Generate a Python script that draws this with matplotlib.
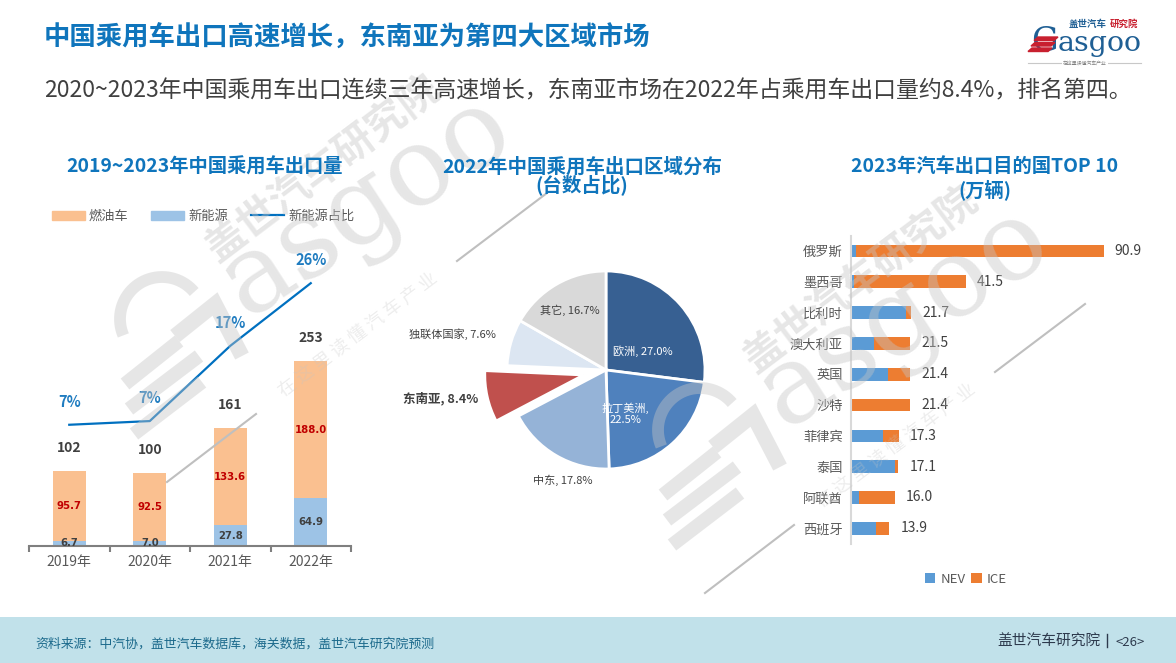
import numpy as np
import matplotlib
matplotlib.use("Agg")
import matplotlib.pyplot as plt
from matplotlib.patches import Patch, Polygon
from matplotlib.lines import Line2D

plt.rcParams['font.family'] = ['Noto Sans CJK SC', 'DejaVu Sans']

W, H = 1176, 663

# left chart
years = ['2019年', '2020年', '2021年', '2022年']
ice_export = [95.7, 92.5, 133.6, 188.0]
nev_export = [6.7, 7.0, 27.8, 64.9]
total_export = [102, 100, 161, 253]
nev_share = [6.5, 7.0, 17.2, 25.7]
nev_share_labels = ['7%', '7%', '17%', '26%']

# pie chart
regions = ['欧洲', '拉丁美洲', '中东', '东南亚', '独联体国家', '其它']
region_share = [27.0, 22.5, 17.8, 8.4, 7.6, 16.7]
region_colors = ['#376092', '#4f81bd', '#95b3d7', '#c0504d', '#dce6f2', '#d9d9d9']
region_explode = [0, 0, 0, 0.23, 0, 0]

# right chart
countries = ['俄罗斯', '墨西哥', '比利时', '澳大利亚', '英国', '沙特', '菲律宾', '泰国', '阿联酋', '西班牙']
country_total = [90.9, 41.5, 21.7, 21.5, 21.4, 21.4, 17.3, 17.1, 16.0, 13.9]
country_nev = [1.8, 1.4, 19.8, 8.6, 13.6, 0.0, 11.5, 15.8, 3.2, 9.3]

BLUE = '#0f75bc'
GREY = '#595959'
DARK = '#404040'
COMMA = '\uff0c'  # full width
COLON = '\uff1a'


def px_axes(fig, left, top, right, bottom, **kw):
    return fig.add_axes([left / W, 1 - bottom / H, (right - left) / W, (bottom - top) / H], **kw)


def draw_left(fig):
    ax = px_axes(fig, 29, 250, 351, 545.7)
    x = np.arange(len(years))
    ax.bar(x, nev_export, width=0.41, color='#9dc3e6')
    ax.bar(x, ice_export, width=0.41, bottom=nev_export, color='#fac090')
    ax.set_xlim(-0.5, 3.5)
    ax.set_ylim(0, 404.8)
    ax.patch.set_visible(False)
    for s in ['top', 'left', 'right']:
        ax.spines[s].set_visible(False)
    ax.spines['bottom'].set_color('#7f7f7f')
    ax.spines['bottom'].set_linewidth(1.5)
    ax.set_yticks([])
    ax.set_xticks(np.arange(-0.5, 4, 1))
    ax.set_xticklabels([])
    ax.tick_params(axis='x', which='major', length=4, width=1.5, color='#7f7f7f')
    ax.set_xticks(x, minor=True)
    ax.set_xticklabels(years, minor=True, fontsize=10, color=GREY)
    ax.tick_params(axis='x', which='minor', length=0, pad=7)

    for i in x:
        ax.text(i, nev_export[i] / 2, f'{nev_export[i]:.1f}', ha='center', va='center',
                family='DejaVu Sans', fontsize=7.3, fontweight='bold', color=DARK)
        ax.text(i, nev_export[i] + ice_export[i] / 2, f'{ice_export[i]:.1f}', ha='center', va='center',
                family='DejaVu Sans', fontsize=7.3, fontweight='bold', color='#c00000')
        ax.annotate(str(total_export[i]), (i, nev_export[i] + ice_export[i]), xytext=(0, 16.5),
                    textcoords='offset points', ha='center', va='center',
                    fontsize=10, fontweight='bold', color=DARK)

    ax2 = ax.twinx()
    ax2.plot(x, nev_share, color='#0070c0', lw=1.6)
    ax2.set_ylim(-9.9, 30.2)
    ax2.axis('off')
    for i in x:
        ax2.annotate(nev_share_labels[i], (i, nev_share[i]), xytext=(0, 16.5),
                     textcoords='offset points', ha='center', va='center',
                     fontsize=10.5, fontweight='bold', color='#1f7cc0')

    handles = [Patch(color='#fac090'), Patch(color='#9dc3e6'), Line2D([], [], color='#0070c0', lw=1.6)]
    fig.legend(handles, ['燃油车', '新能源', '新能源占比'], ncol=3, frameon=False, loc='center',
               bbox_to_anchor=(203 / W, 1 - 216.5 / H), fontsize=9.5, labelcolor=GREY,
               handlelength=2.5, handletextpad=0.3, columnspacing=1.75, borderpad=0, borderaxespad=0)


def draw_pie(fig):
    ax = px_axes(fig, 456, 220, 756, 520)
    ax.pie(region_share, colors=region_colors, explode=region_explode, startangle=90, counterclock=False,
           wedgeprops={'edgecolor': 'white', 'linewidth': 2})
    ax.set_xlim(-150 / 99, 150 / 99)
    ax.set_ylim(-150 / 99, 150 / 99)


def draw_right(fig):
    ax = px_axes(fig, 850.5, 236, 1150, 544)
    y = np.arange(len(countries))
    ice = [t - n for t, n in zip(country_total, country_nev)]
    ax.barh(y, country_nev, height=0.41, color='#5b9bd5', label='NEV')
    ax.barh(y, ice, height=0.41, left=country_nev, color='#ed7d31', label='ICE')
    ax.set_ylim(9.51, -0.487)
    ax.set_xlim(0, 107.5)
    ax.patch.set_visible(False)
    for s in ['top', 'right', 'bottom']:
        ax.spines[s].set_visible(False)
    ax.spines['left'].set_color('#d9d9d9')
    ax.spines['left'].set_linewidth(1.5)
    ax.set_xticks([])
    ax.set_yticks(y)
    ax.set_yticklabels(countries, fontsize=9.5, color=GREY)
    ax.tick_params(axis='y', length=0, pad=5.5)
    for i in y:
        ax.annotate(f'{country_total[i]:.1f}', (country_total[i], i), xytext=(8, 0),
                    textcoords='offset points', ha='left', va='center', fontsize=10, color=DARK)
    fig.legend(*ax.get_legend_handles_labels(), ncol=2, frameon=False, loc='center',
               bbox_to_anchor=(966 / W, 1 - 579.5 / H), fontsize=9.5, labelcolor=GREY,
               handlelength=0.8, handleheight=0.8, handletextpad=0.4, columnspacing=0.4,
               borderpad=0, borderaxespad=0)


def draw_watermark(ov, dx, dy):
    wm = dict(color='#c5c5c5', alpha=0.42, zorder=4)
    t = np.radians(np.linspace(203, 40, 40))
    ov.plot(162 + dx + 42 * np.cos(t), 319 + dy - 42 * np.sin(t), lw=8.5, solid_capstyle='butt', **wm)
    for xs, ys in [([125, 179], [384, 341]), ([129, 199], [409, 356]), ([134, 202], [434, 382])]:
        ov.plot(np.array(xs) + dx, np.array(ys) + dy, lw=10, solid_capstyle='butt', **wm)
    ov.plot(np.array([175, 215, 242]) + dx, np.array([336, 304, 356]) + dy, lw=11, solid_joinstyle='miter',
            solid_capstyle='butt', **wm)
    ov.text(245.5 + dx, 318 + dy, 'asgoo', family='DejaVu Serif', fontsize=79, rotation=33,
            rotation_mode='anchor', ha='left', va='baseline', **wm)
    ov.text(323 + dx, 170 + dy, '盖世汽车研究院', fontsize=29, fontweight='bold', rotation=37,
            rotation_mode='anchor', ha='center', va='center', **wm)
    ov.text(358 + dx, 335 + dy, '在 这 里 读 懂 汽 车 产 业', fontsize=13, rotation=37,
            rotation_mode='anchor', ha='center', va='center', color='#c5c5c5', alpha=0.3, zorder=4)
    ov.plot(np.array([167, 256]) + dx, np.array([482, 414]) + dy, lw=1.5, color='#bfbfbf', zorder=4)
    ov.plot(np.array([457, 547]) + dx, np.array([261, 193]) + dy, lw=1.5, color='#bfbfbf', zorder=4)


def draw_logo(ov):
    navy = '#1f5f94'
    red = '#c8202f'
    ov.text(1031, 51, 'G', family='DejaVu Serif', fontsize=24, color=navy, ha='left', va='baseline')
    ov.text(1058, 51, 'asgoo', family='DejaVu Serif', fontsize=20.5, color=navy, ha='left', va='baseline')
    for i, y in enumerate([37, 42.5, 48]):
        ov.add_patch(Polygon([(1034 - i * 3, y + 3.5), (1054 - i * 3, y + 3.5), (1058 - i * 3, y), (1038 - i * 3, y)],
                             color=red, zorder=6))
    ov.text(1069, 24, '盖世汽车', fontsize=6.8, fontweight='bold', color=navy, ha='left', va='center')
    ov.text(1110, 24, '研究院', fontsize=6.8, fontweight='bold', color=red, ha='left', va='center')
    ov.plot([1028, 1141], [63, 63], color='#c8c8c8', lw=0.8)
    ov.text(1085, 63, '在这里读懂汽车产业', fontsize=3.5, color='#808080', ha='center', va='center',
            bbox=dict(facecolor='white', edgecolor='none', pad=1))


fig = plt.figure(figsize=(W / 100, H / 100), dpi=100, facecolor='white')

draw_left(fig)
draw_pie(fig)
draw_right(fig)

# everything positioned by hand lives on a pixel-sized overlay
ov = fig.add_axes([0, 0, 1, 1], zorder=10)
ov.set_xlim(0, W)
ov.set_ylim(H, 0)
ov.axis('off')

ov.axhspan(617, 663, color='#c1e1ea', lw=0, zorder=1)

ov.text(44, 38, f'中国乘用车出口高速增长{COMMA}东南亚为第四大区域市场', fontsize=19, fontweight='bold', color=BLUE,
        ha='left', va='center', zorder=5)
ov.text(44, 91, f'2020~2023年中国乘用车出口连续三年高速增长{COMMA}东南亚市场在2022年占乘用车出口量约8.4%{COMMA}排名第四。',
        fontsize=16.5, color=DARK, ha='left', va='center', zorder=5)

ov.text(204.5, 167, '2019~2023年中国乘用车出口量', fontsize=13.9, fontweight='bold', color=BLUE,
        ha='center', va='center', zorder=5)
ov.text(582, 167, '2022年中国乘用车出口区域分布', fontsize=14, fontweight='bold', color=BLUE,
        ha='center', va='center', zorder=5)
ov.text(582, 185, '(台数占比)', fontsize=14, fontweight='bold', color=BLUE, ha='center', va='center', zorder=5)
ov.text(984.5, 166, '2023年汽车出口目的国TOP 10', fontsize=13.9, fontweight='bold', color=BLUE,
        ha='center', va='center', zorder=5)
ov.text(985, 190, '(万辆)', fontsize=13.9, fontweight='bold', color=BLUE, ha='center', va='center', zorder=5)

pie_labels = [(643, 351, 'white', 'normal', 8), (625, 414, 'white', 'normal', 8), (563, 480, DARK, 'normal', 8),
              (441, 399, DARK, 'bold', 9), (452, 334, DARK, 'normal', 8), (570, 310, DARK, 'normal', 8)]
for name, share, (lx, ly, c, fw, fs) in zip(regions, region_share, pie_labels):
    sep = ',\n' if name == '拉丁美洲' else ', '
    ov.text(lx, ly, f'{name}{sep}{share}%', color=c, fontweight=fw, fontsize=fs, ha='center', va='center',
            linespacing=1.1, zorder=5)

draw_watermark(ov, 0, 0)
draw_watermark(ov, 538, 111)
draw_logo(ov)

ov.text(35, 644, f'资料来源{COLON}中汽协{COMMA}盖世汽车数据库{COMMA}海关数据{COMMA}盖世汽车研究院预测', fontsize=9.3,
        color='#1c6a8c', ha='left', va='center', zorder=5)
ov.text(997, 642, '盖世汽车研究院', fontsize=10.6, color='#2d3a4d', ha='left', va='center', zorder=5)
ov.plot([1107, 1107], [634, 647], color='#2d3a4d', lw=1, zorder=5)
ov.text(1130, 642, '<26>', fontsize=9.5, color='#2d3a4d', ha='center', va='center', zorder=5)

fig.savefig('out.png', dpi=100)
